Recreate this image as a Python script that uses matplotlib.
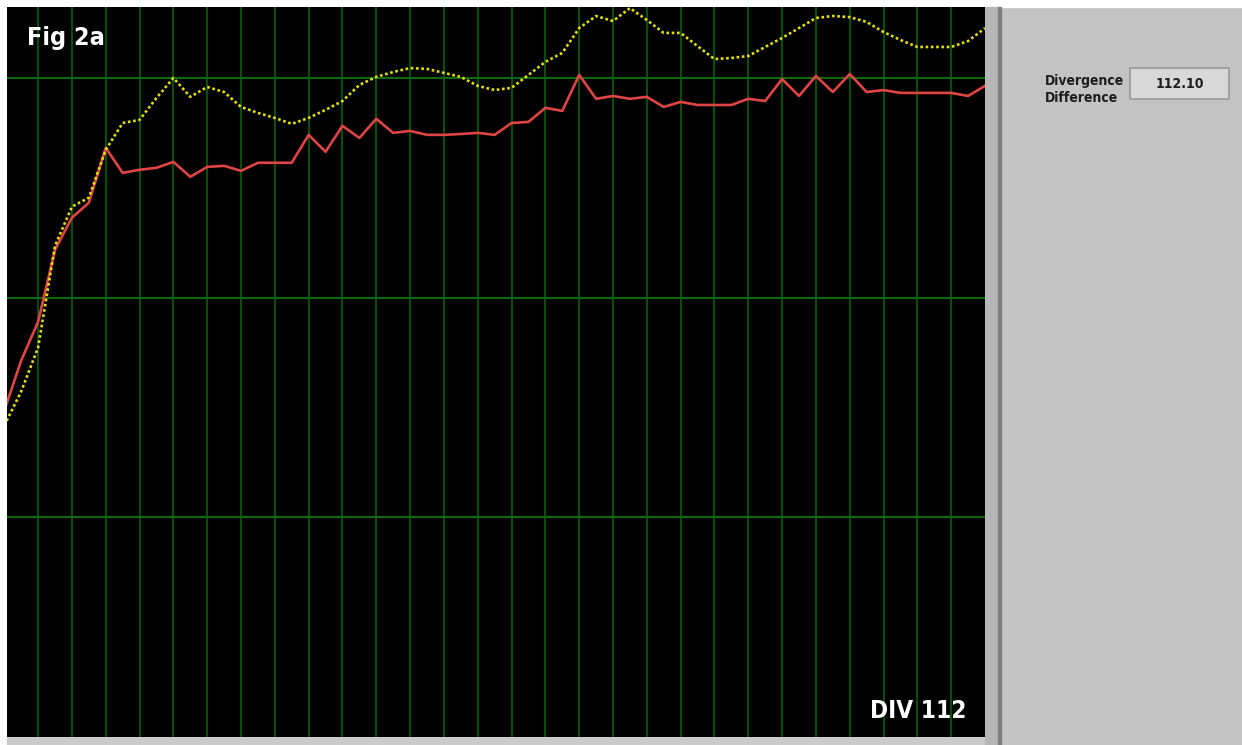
import numpy as np
import matplotlib
matplotlib.use('Agg')
import matplotlib.pyplot as plt
from matplotlib.patches import Rectangle

# sample positions (half a grid division apart)
x = np.arange(-10, 281, 5)

# red trace
red = [148.6, 171.4, 189.0, 221.8, 236.4, 243.2, 268.2, 256.8, 258.2, 259.1,
       261.8, 255.0, 259.5, 260.0, 257.7, 261.4, 261.4, 261.4, 274.1, 266.4,
       278.2, 272.7, 281.4, 275.0, 275.9, 274.1, 274.1, 274.5, 275.0, 274.1,
       279.5, 280.0, 286.4, 285.0, 301.4, 290.5, 291.8, 290.5, 291.4, 286.8,
       289.1, 287.7, 287.7, 287.7, 290.5, 289.5, 299.5, 291.8, 300.9, 293.6,
       301.8, 293.6, 294.5, 293.2, 293.2, 293.2, 293.2, 291.8, 296.4]

# yellow dotted trace
yellow = [141.8, 157.3, 177.3, 223.6, 241.4, 245.5, 267.3, 279.5, 280.9, 290.9,
          300.0, 291.4, 295.9, 293.6, 286.8, 284.1, 281.8, 279.1, 281.8, 285.5,
          289.5, 296.8, 300.5, 302.7, 304.5, 304.1, 302.3, 300.5, 296.4, 294.5,
          295.5, 301.4, 307.3, 311.4, 322.7, 328.2, 325.9, 331.8, 326.4, 320.5,
          320.5, 314.5, 308.6, 309.1, 310.0, 314.1, 318.2, 322.7, 327.3, 328.2,
          327.7, 325.5, 320.9, 317.3, 314.1, 314.1, 314.1, 316.8, 322.7]

vgrid = np.arange(0, 280, 10)
hgrid = [100, 200, 300]

fig_label = 'Fig 2a'
div_label = 'DIV 112'
field_label = 'Divergence\nDifference'
field_value = '112.10'

W, H = 1242, 745
fig = plt.figure(figsize=(W / 100, H / 100), dpi=100, facecolor='#c3c3c3')

txt = dict(family='DejaVu Sans', fontstretch='condensed', fontweight='bold')

# frame strips around the graph
fig.add_artist(Rectangle((0, 1 - 7 / H), 1, 7 / H, transform=fig.transFigure,
                         color='white', zorder=0))
fig.add_artist(Rectangle((0, 0), 7 / W, 1, transform=fig.transFigure,
                         color='white', zorder=0))
fig.add_artist(Rectangle((7 / W, 0), 993 / W, 8 / H, transform=fig.transFigure,
                         color='#cbcbcb', zorder=0))
fig.add_artist(Rectangle((985 / W, 0), 14 / W, 1 - 7 / H, transform=fig.transFigure,
                         color='#b6b6b6', zorder=0))
fig.add_artist(Rectangle((998 / W, 0), 3 / W, 1 - 7 / H, transform=fig.transFigure,
                         color='#808080', zorder=0))

ax = fig.add_axes([7 / W, 8 / H, 978 / W, 730 / H])
ax.set_facecolor('black')
for s in ax.spines.values():
    s.set_visible(False)
ax.set_xticks([])
ax.set_yticks([])
ax.set_xlim(-9.2, 280)
ax.set_ylim(0, 332.3)

for v in vgrid:
    ax.axvline(v, color='#0a4e0a', lw=1.5, zorder=1)
for h in hgrid:
    ax.axhline(h, color='#0f6a0f', lw=1.5, zorder=1)

ax.plot(x, red, color='#e04545', lw=1.9, zorder=2)
ax.plot(x, yellow, color='#e6e000', lw=1.9, linestyle=(0, (1, 1)), zorder=3)

fig.text(27 / W, 1 - 45 / H, fig_label, color='white', fontsize=18,
         va='baseline', ha='left', **txt)
fig.text(966 / W, 1 - 718 / H, div_label, color='white', fontsize=17.5,
         va='baseline', ha='right', **txt)

fig.text(1045 / W, 1 - 102 / H, field_label, color='#1e1e1e', fontsize=10,
         va='baseline', ha='left', linespacing=1.3, **txt)

# value box
fig.add_artist(Rectangle((1130 / W, 1 - 99 / H), 99 / W, 31 / H,
                         transform=fig.transFigure, facecolor='#d8d8d8',
                         edgecolor='#9a9a9a', lw=1.2))
fig.text(1180 / W, 1 - 84 / H, field_value, color='#1e1e1e', fontsize=10,
         va='center', ha='center', **txt)

fig.savefig('out.png', dpi=100, facecolor=fig.get_facecolor())
